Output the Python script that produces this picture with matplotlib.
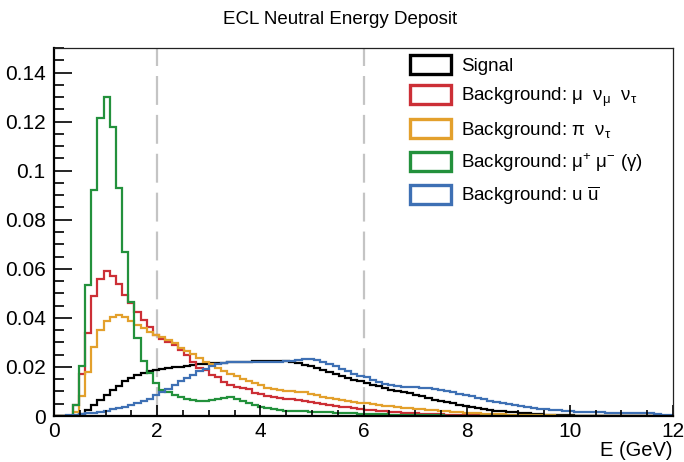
import numpy as np
import matplotlib
matplotlib.use("Agg")
import matplotlib.pyplot as plt
from matplotlib.patches import Patch
from matplotlib.ticker import MultipleLocator, FuncFormatter

plt.rcParams['font.family'] = ['Liberation Sans', 'DejaVu Sans']
plt.rcParams['mathtext.fontset'] = 'custom'
plt.rcParams['mathtext.rm'] = 'Liberation Sans'
plt.rcParams['mathtext.it'] = 'Liberation Sans:italic'
plt.rcParams['mathtext.bf'] = 'Liberation Sans:bold'

# ---------------- data (100 bins, 0-12 GeV) ----------------
e_min, e_max, n_bins = 0.0, 12.0, 100

signal = [0, 0, 0, 0, 0.0007, 0.0024, 0.0045, 0.0065, 0.0087, 0.0106,
          0.0124, 0.0142, 0.0156, 0.0168, 0.0176, 0.0182, 0.0187, 0.0191, 0.0195, 0.0198,
          0.0201, 0.0204, 0.0207, 0.0210, 0.0212, 0.0214, 0.0216, 0.0218, 0.0219, 0.0220,
          0.0221, 0.0222, 0.0223, 0.0224, 0.0224, 0.0225, 0.0224, 0.0223, 0.0221, 0.0215,
          0.0209, 0.0203, 0.0196, 0.0188, 0.0179, 0.0171, 0.0163, 0.0155, 0.0148, 0.0141,
          0.0135, 0.0128, 0.0121, 0.0114, 0.0108, 0.0102, 0.0097, 0.0092, 0.0087, 0.0080,
          0.0073, 0.0067, 0.0061, 0.0056, 0.0051, 0.0046, 0.0040, 0.0035, 0.0031, 0.0027,
          0.0024, 0.0021, 0.0019, 0.0017, 0.0015, 0.0013, 0.0011, 0.0009, 0.0007, 0.0006,
          0.0005, 0.0004, 0.0003, 0.0003, 0.0002, 0.0002, 0.0001, 0.0001, 0.0001, 0.0001,
          0, 0, 0, 0, 0, 0, 0, 0, 0, 0]

bkg_munu = [0, 0, 0, 0.0045, 0.0171, 0.0338, 0.0490, 0.0558, 0.0589, 0.0569,
            0.0537, 0.0494, 0.0460, 0.0423, 0.0392, 0.0362, 0.0331, 0.0312, 0.0303, 0.0288,
            0.0269, 0.0249, 0.0222, 0.0195, 0.0188, 0.0167, 0.0160, 0.0140, 0.0126, 0.0120,
            0.0113, 0.0110, 0.0095, 0.0090, 0.0082, 0.0079, 0.0074, 0.0070, 0.0068, 0.0065,
            0.0062, 0.0057, 0.0053, 0.0049, 0.0045, 0.0041, 0.0038, 0.0035, 0.0033, 0.0028,
            0.0026, 0.0024, 0.0022, 0.0019, 0.0018, 0.0015, 0.0014, 0.0012, 0.0011, 0.0010,
            0.0009, 0.0008, 0.0007, 0.0006, 0.0005, 0.0005, 0.0004, 0.0004, 0.0003, 0.0003,
            0.0002, 0.0002, 0.0002, 0.0001, 0.0001, 0.0001, 0.0001, 0, 0, 0,
            0, 0, 0, 0, 0, 0, 0, 0, 0, 0,
            0, 0, 0, 0, 0, 0, 0, 0, 0, 0]

bkg_pinu = [0, 0, 0, 0.0018, 0.0083, 0.0180, 0.0280, 0.0350, 0.0388, 0.0405,
            0.0411, 0.0402, 0.0388, 0.0371, 0.0358, 0.0344, 0.0331, 0.0322, 0.0311, 0.0299,
            0.0276, 0.0263, 0.0252, 0.0235, 0.0219, 0.0211, 0.0195, 0.0185, 0.0171, 0.0163,
            0.0150, 0.0141, 0.0133, 0.0125, 0.0116, 0.0110, 0.0106, 0.0103, 0.0101, 0.0099,
            0.0096, 0.0089, 0.0086, 0.0079, 0.0075, 0.0071, 0.0066, 0.0063, 0.0058, 0.0054,
            0.0052, 0.0049, 0.0045, 0.0042, 0.0039, 0.0037, 0.0034, 0.0032, 0.0030, 0.0028,
            0.0026, 0.0024, 0.0022, 0.0020, 0.0018, 0.0016, 0.0014, 0.0013, 0.0011, 0.0010,
            0.0009, 0.0008, 0.0007, 0.0006, 0.0005, 0.0005, 0.0004, 0.0004, 0.0003, 0.0003,
            0.0003, 0.0002, 0.0002, 0.0002, 0.0002, 0.0001, 0.0001, 0.0001, 0.0001, 0.0001,
            0, 0, 0, 0, 0, 0, 0, 0, 0, 0]

bkg_mumu = [0, 0, 0, 0.0045, 0.0204, 0.0535, 0.0922, 0.1215, 0.1300, 0.1180,
            0.0930, 0.0670, 0.0465, 0.0318, 0.0226, 0.0174, 0.0133, 0.0107, 0.0096, 0.0086,
            0.0076, 0.0069, 0.0065, 0.0062, 0.0062, 0.0065, 0.0070, 0.0074, 0.0076, 0.0071,
            0.0063, 0.0053, 0.0044, 0.0036, 0.0031, 0.0027, 0.0025, 0.0022, 0.0021, 0.0020,
            0.0019, 0.0018, 0.0017, 0.0016, 0.0015, 0.0014, 0.0013, 0.0012, 0.0011, 0.0010,
            0.0009, 0.0008, 0.0008, 0.0007, 0.0006, 0.0006, 0.0005, 0.0005, 0.0004, 0.0004,
            0.0003, 0.0003, 0.0003, 0.0002, 0.0002, 0.0002, 0.0002, 0.0001, 0.0001, 0.0001,
            0.0001, 0.0001, 0.0001, 0.0001, 0, 0, 0, 0, 0, 0,
            0, 0, 0, 0, 0, 0, 0, 0, 0, 0,
            0, 0, 0, 0, 0, 0, 0, 0, 0, 0]

bkg_uu = [0.0001, 0.0002, 0.0004, 0.0006, 0.0008, 0.0011, 0.0014, 0.0018, 0.0022, 0.0027,
          0.0032, 0.0038, 0.0045, 0.0052, 0.0061, 0.0071, 0.0084, 0.0098, 0.0112, 0.0128,
          0.0142, 0.0156, 0.0169, 0.0182, 0.0193, 0.0203, 0.0211, 0.0217, 0.0220, 0.0222,
          0.0222, 0.0221, 0.0220, 0.0220, 0.0220, 0.0221, 0.0222, 0.0224, 0.0226, 0.0230,
          0.0232, 0.0233, 0.0228, 0.0220, 0.0211, 0.0202, 0.0192, 0.0182, 0.0172, 0.0165,
          0.0157, 0.0148, 0.0138, 0.0130, 0.0125, 0.0121, 0.0118, 0.0117, 0.0117, 0.0115,
          0.0113, 0.0110, 0.0106, 0.0101, 0.0097, 0.0091, 0.0086, 0.0080, 0.0074, 0.0068,
          0.0063, 0.0057, 0.0052, 0.0047, 0.0043, 0.0040, 0.0036, 0.0033, 0.0030, 0.0027,
          0.0025, 0.0023, 0.0021, 0.0019, 0.0018, 0.0017, 0.0016, 0.0015, 0.0015, 0.0014,
          0.0014, 0.0014, 0.0014, 0.0013, 0.0013, 0.0012, 0.0011, 0.0009, 0.0006, 0.0003]

labels = ["Signal",
          r"Background: μ  ν$_{\mathrm{μ}}$  ν$_{\mathrm{τ}}$",
          r"Background: π  ν$_{\mathrm{τ}}$",
          r"Background: μ$^{+}$ μ$^{\mathrm{-}}$ (γ)",
          r"Background: u $\overline{\mathrm{u}}$"]
colors = ["#000000", "#cc2f36", "#e3a02c", "#23913c", "#3e70b4"]
cut_lines = [2, 6]

title = "ECL Neutral Energy Deposit"
xlabel = "E (GeV)"

# ---------------- figure ----------------
W, H = 684, 462
fig = plt.figure(figsize=(W / 100, H / 100), dpi=100)
ax = fig.add_axes([54 / W, 46 / H, 619 / W, 368 / H])

edges = np.linspace(e_min, e_max, n_bins + 1)
series = [signal, bkg_munu, bkg_pinu, bkg_mumu, bkg_uu]
for vals, col in zip(series, colors):
    ax.stairs(vals, edges, color=col, linewidth=1.6, baseline=0)

for xc in cut_lines:
    ax.axvline(xc, color="#c4c4c4", linewidth=1.6, linestyle=(0, (13, 4.5)), zorder=0)

ax.set_xlim(0, 12)
ax.set_ylim(0, 0.15)

ax.xaxis.set_major_locator(MultipleLocator(2))
ax.xaxis.set_minor_locator(MultipleLocator(0.5))
ax.yaxis.set_major_locator(MultipleLocator(0.02))
ax.yaxis.set_minor_locator(MultipleLocator(0.005))
ax.yaxis.set_major_formatter(FuncFormatter(lambda v, p: "%g" % round(v, 4)))
ax.xaxis.set_major_formatter(FuncFormatter(lambda v, p: "%g" % v))

ax.tick_params(axis="both", which="both", direction="in", top=False, right=False,
               labelsize=15, width=1.2, color="black")
ax.tick_params(axis="y", which="major", length=13, pad=6)
ax.tick_params(axis="y", which="minor", length=7)
ax.tick_params(axis="x", which="major", length=8, pad=4)
ax.tick_params(axis="x", which="minor", length=4)

for s in ["left", "bottom"]:
    ax.spines[s].set_linewidth(1.6)
    ax.spines[s].set_color("black")
for s in ["top", "right"]:
    ax.spines[s].set_linewidth(0.9)
    ax.spines[s].set_color("#222222")

fig.text(340 / W, 1 - 19 / H, title, ha="center", va="center", fontsize=13.5)
fig.text(672 / W, 1 - 450 / H, xlabel, ha="right", va="center", fontsize=14.5)

handles = [Patch(facecolor="none", edgecolor=c, linewidth=2.4) for c in colors]
leg = fig.legend(handles, labels, loc="upper left",
                 bbox_to_anchor=(410 / W, 1 - 55 / H), frameon=False,
                 fontsize=13.5, handlelength=2.2, handleheight=1.2,
                 handletextpad=0.5, labelspacing=0.54, borderpad=0, borderaxespad=0)

fig.savefig("out.png", dpi=100)
